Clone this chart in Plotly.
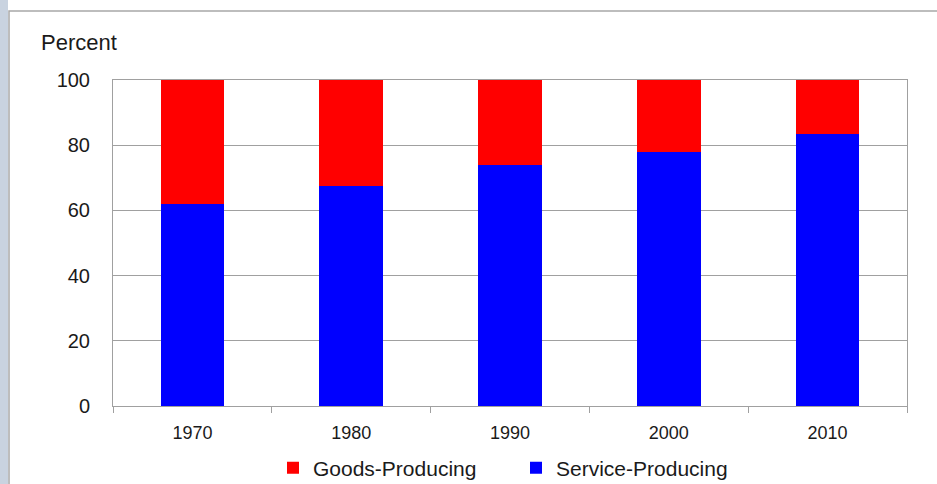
import plotly.graph_objects as go

years = ["1970", "1980", "1990", "2000", "2010"]
service = [61.9, 67.5, 73.9, 77.9, 83.3]
goods = [100 - v for v in service]
y_ticks = [0, 20, 40, 60, 80, 100]

W, H = 937, 484
L, R, T, B = 113, 30, 80, 78
pw = W - L - R
ph = H - T - B

def px(x):
    return (x - L) / pw

def py(y):
    return (H - B - y) / ph

fig = go.Figure()
fig.add_trace(go.Bar(x=years, y=service, name="Service-Producing",
                     marker=dict(color="#0000ff", line=dict(width=0)), width=0.4))
fig.add_trace(go.Bar(x=years, y=goods, name="Goods-Producing",
                     marker=dict(color="#ff0000", line=dict(width=0)), width=0.4))

fig.update_layout(
    width=W, height=H,
    margin=dict(l=L, r=R, t=T, b=B, autoexpand=False),
    barmode="stack",
    plot_bgcolor="white", paper_bgcolor="white",
    font=dict(family="Liberation Sans, Arial, sans-serif", size=18, color="#1a1a1a"),
    showlegend=True,
    legend=dict(orientation="h", traceorder="reversed",
                xref="container", x=273 / W, xanchor="left",
                yref="container", y=1 - 468 / H, yanchor="middle",
                font=dict(size=21, color="#1a1a1a"),
                itemwidth=30, tracegroupgap=0,
                entrywidth=198, entrywidthmode="pixels"),
    xaxis=dict(showgrid=False, showline=True, linecolor="#a0a0a0", linewidth=1,
               mirror=True, ticks="outside", tickson="boundaries", ticklen=6,
               tickcolor="#a0a0a0", tickfont=dict(size=18), automargin=False,
               ticklabelstandoff=10),
    yaxis=dict(range=[0, 100], tickvals=y_ticks, showgrid=True, gridcolor="#a0a0a0",
               gridwidth=1, showline=True, linecolor="#a0a0a0", mirror=True,
               ticks="", ticklabelstandoff=18, tickfont=dict(size=20), zeroline=False,
               automargin=False),
    shapes=[
        dict(type="rect", xref="paper", yref="paper", x0=px(9), x1=px(945),
             y0=py(500), y1=py(11), line=dict(color="#a8a8a8", width=1.5),
             fillcolor="rgba(0,0,0,0)", layer="below"),
        dict(type="rect", xref="paper", yref="paper", x0=px(0), x1=px(8),
             y0=py(484), y1=py(0), line=dict(width=0),
             fillcolor="#c9d3e0", layer="below"),
    ],
    annotations=[
        dict(text="Percent", xref="paper", yref="paper", x=px(39), y=py(42),
             xanchor="left", yanchor="middle", showarrow=False,
             font=dict(size=22, color="#1a1a1a")),
    ],
)

fig.write_html("out.html")
